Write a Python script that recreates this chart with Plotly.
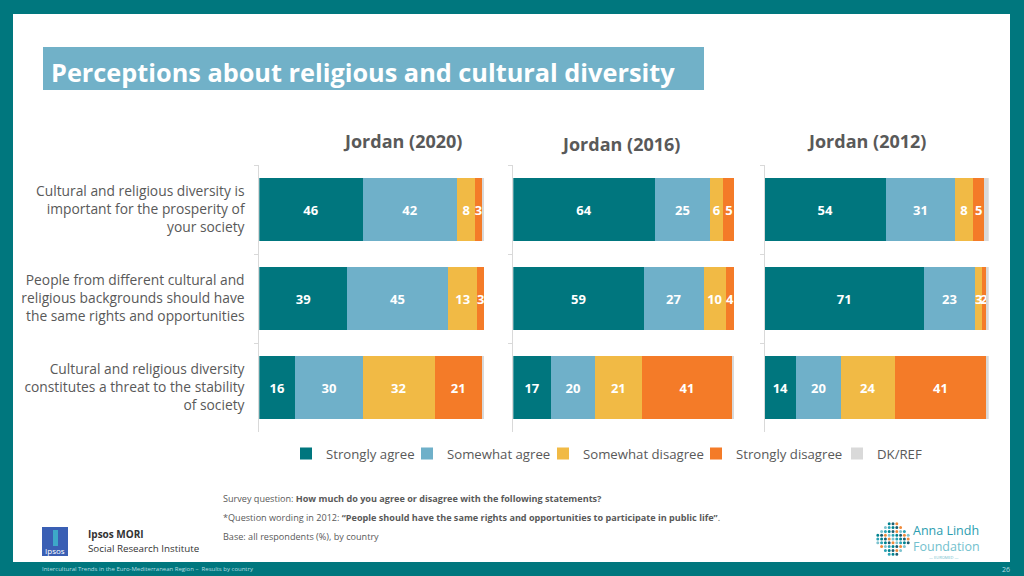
import plotly.graph_objects as go

# ---------------- data ----------------
statements = [
    "Cultural and religious diversity is<br>important for the prosperity of<br>your society",
    "People from different cultural and<br>religious backgrounds should have<br>the same rights and opportunities",
    "Cultural and religious diversity<br>constitutes a threat to the stability<br>of society",
]
panels = ["Jordan (2020)", "Jordan (2016)", "Jordan (2012)"]
series = ["Strongly agree", "Somewhat agree", "Somewhat disagree", "Strongly disagree", "DK/REF"]
colors = ["#00767E", "#6FB0C9", "#F1BA45", "#F47B28", "#D9D9D9"]

jordan_2020 = {
    "Strongly agree":    [46, 39, 16],
    "Somewhat agree":    [42, 45, 30],
    "Somewhat disagree": [8, 13, 32],
    "Strongly disagree": [3, 3, 21],
    "DK/REF":            [1, 0, 1],
}
jordan_2016 = {
    "Strongly agree":    [64, 59, 17],
    "Somewhat agree":    [25, 27, 20],
    "Somewhat disagree": [6, 10, 21],
    "Strongly disagree": [5, 4, 41],
    "DK/REF":            [0, 0, 1],
}
jordan_2012 = {
    "Strongly agree":    [54, 71, 14],
    "Somewhat agree":    [31, 23, 20],
    "Somewhat disagree": [8, 3, 24],
    "Strongly disagree": [5, 2, 41],
    "DK/REF":            [2, 1, 1],
}
panel_data = [jordan_2020, jordan_2016, jordan_2012]

# ---------------- helpers ----------------
W, H = 1024, 576
def px(x):
    return x / W
def py(y):
    return 1 - y / H

GREY = "#595959"
TEAL = "#00777E"
legend_widths = [76, 91, 108, 96, 50]

fig = go.Figure()

for p, pdata in enumerate(panel_data):
    xa = "x" if p == 0 else f"x{p+1}"
    ya = "y" if p == 0 else f"y{p+1}"
    for s, name in enumerate(series):
        vals = pdata[name]
        txt = [("" if (name == "DK/REF" or v == 0) else str(v)) for v in vals]
        fig.add_trace(go.Bar(
            y=statements, x=vals, orientation="h",
            name=name, legendgroup=name, showlegend=(p == 0),
            legendwidth=legend_widths[s],
            marker=dict(color=colors[s], line=dict(width=0)),
            text=txt, textposition="inside", insidetextanchor="middle",
            textangle=0, constraintext="none",
            textfont=dict(family="Open Sans", size=13, color="white", weight="bold"),
            width=0.7, xaxis=xa, yaxis=ya, hoverinfo="skip",
            cliponaxis=False,
        ))

x_domains = [[259.3 / W, 484.1 / W], [513.3 / W, 734.5 / W], [764.7 / W, 988.7 / W]]
y_domain = [py(432), py(165)]

layout = dict(
    width=W, height=H,
    margin=dict(l=0, r=0, t=0, b=0),
    paper_bgcolor=TEAL, plot_bgcolor="rgba(0,0,0,0)",
    barmode="stack",
    showlegend=True,
    legend=dict(orientation="h", x=px(286), xanchor="left", y=py(454), yanchor="middle",
                font=dict(family="Open Sans", size=13.2, color=GREY),
                itemwidth=30, tracegroupgap=0, bgcolor="rgba(0,0,0,0)", borderwidth=0),
    font=dict(family="Open Sans", color=GREY),
)
for p in range(3):
    xk = "xaxis" if p == 0 else f"xaxis{p+1}"
    yk = "yaxis" if p == 0 else f"yaxis{p+1}"
    layout[xk] = dict(domain=x_domains[p], range=[0, 100], visible=False,
                      anchor="y" if p == 0 else f"y{p+1}")
    layout[yk] = dict(domain=y_domain, autorange="reversed", type="category",
                      anchor="x" if p == 0 else f"x{p+1}",
                      showline=True, linecolor="#D9D9D9", linewidth=1,
                      ticks="outside", ticklen=4, tickcolor="#D9D9D9", tickson="boundaries",
                      showgrid=False, zeroline=False,
                      showticklabels=(p == 0), ticklabelstandoff=11,
                      tickfont=dict(family="Open Sans", size=13.8, color=GREY))
fig.update_layout(**layout)

shapes = [
    dict(type="rect", xref="paper", yref="paper", x0=px(13), x1=px(1010), y0=py(562), y1=py(14),
         fillcolor="white", line=dict(width=0), layer="below"),
    dict(type="rect", xref="paper", yref="paper", x0=px(43), x1=px(704), y0=py(90), y1=py(47),
         fillcolor="#71B1C8", line=dict(width=0), layer="below"),
    dict(type="rect", xref="paper", yref="paper", x0=px(42), x1=px(68), y0=py(556), y1=py(527),
         fillcolor="#3A5FB4", line=dict(width=0), layer="above"),
    dict(type="rect", xref="paper", yref="paper", x0=px(53), x1=px(58), y0=py(546), y1=py(530),
         fillcolor="#3DA8C8", line=dict(width=0), layer="above"),
]

# Anna Lindh Foundation logo dots (decorative)
dot_cols = ["#00838F", "#F08A3A", "#2BA3B5", "#1B5E72", "#7DC3CF"]
cx, cy, R = 893, 539, 16
k = 0
for iy in range(-4, 5):
    for ix in range(-4, 5):
        dx, dy = ix * 3.8, iy * 3.8
        if dx * dx + dy * dy <= R * R:
            shapes.append(dict(type="circle", xref="paper", yref="paper",
                               x0=px(cx + dx - 1.5), x1=px(cx + dx + 1.5),
                               y0=py(cy + dy + 1.5), y1=py(cy + dy - 1.5),
                               fillcolor=dot_cols[k % 5], line=dict(width=0)))
            k += 3
fig.update_layout(shapes=shapes)

ann = []
ann.append(dict(text="<b>Perceptions about religious and cultural diversity</b>", x=px(49), y=py(72),
                xref="paper", yref="paper", xanchor="left", yanchor="middle", showarrow=False,
                font=dict(family="Open Sans", size=25.3, color="white")))
for name, cxp, cyp in zip(panels, [402, 620, 866], [141, 144, 141]):
    ann.append(dict(text=f"<b>{name}</b>", x=px(cxp), y=py(cyp), xref="paper", yref="paper",
                    xanchor="center", yanchor="middle", showarrow=False,
                    font=dict(family="Open Sans", size=18, color=GREY)))
foot = [
    ("Survey question: <b>How much do you agree or disagree with the following statements?</b>", 498),
    ("*Question wording in 2012: <b>\u201cPeople should have the same rights and opportunities to participate in public life\u201d</b>.", 517),
    ("Base: all respondents (%), by country", 536),
]
for t, yy in foot:
    ann.append(dict(text=t, x=px(221), y=py(yy), xref="paper", yref="paper", xanchor="left",
                    yanchor="middle", showarrow=False,
                    font=dict(family="Open Sans", size=9.1, color=GREY)))
ann.append(dict(text="Ipsos", x=px(55), y=py(550), xref="paper", yref="paper", xanchor="center",
                yanchor="middle", showarrow=False, font=dict(family="Open Sans", size=8, color="white")))
ann.append(dict(text="<b>Ipsos MORI</b>", x=px(86), y=py(534), xref="paper", yref="paper", xanchor="left",
                yanchor="middle", showarrow=False, font=dict(family="Open Sans", size=10, color="#333333")))
ann.append(dict(text="Social Research Institute", x=px(86), y=py(548), xref="paper", yref="paper",
                xanchor="left", yanchor="middle", showarrow=False,
                font=dict(family="Open Sans", size=9.8, color="#333333")))
ann.append(dict(text="Anna Lindh", x=px(911), y=py(530), xref="paper", yref="paper", xanchor="left",
                yanchor="middle", showarrow=False, font=dict(family="Open Sans", size=12.5, color="#2A9DB0")))
ann.append(dict(text="Foundation", x=px(911), y=py(546), xref="paper", yref="paper", xanchor="left",
                yanchor="middle", showarrow=False, font=dict(family="Open Sans", size=12.5, color="#72C1CE")))
ann.append(dict(text="\u2014 EUROMED \u2014", x=px(944), y=py(557), xref="paper", yref="paper", xanchor="center",
                yanchor="middle", showarrow=False, font=dict(family="Open Sans", size=4, color="#72C1CE")))
ann.append(dict(text="Intercultural Trends in the Euro-Mediterranean Region \u2013  Results by country", x=px(40),
                y=py(569), xref="paper", yref="paper", xanchor="left", yanchor="middle", showarrow=False,
                font=dict(family="Open Sans", size=6, color="#B9DDE0")))
ann.append(dict(text="26", x=px(1012), y=py(569), xref="paper", yref="paper", xanchor="right",
                yanchor="middle", showarrow=False, font=dict(family="Open Sans", size=7, color="#B9DDE0")))
fig.update_layout(annotations=ann)

fig.write_html("out.html", config={"displayModeBar": False},
               post_script="document.body.style.margin='0';document.body.style.overflow='hidden';")
